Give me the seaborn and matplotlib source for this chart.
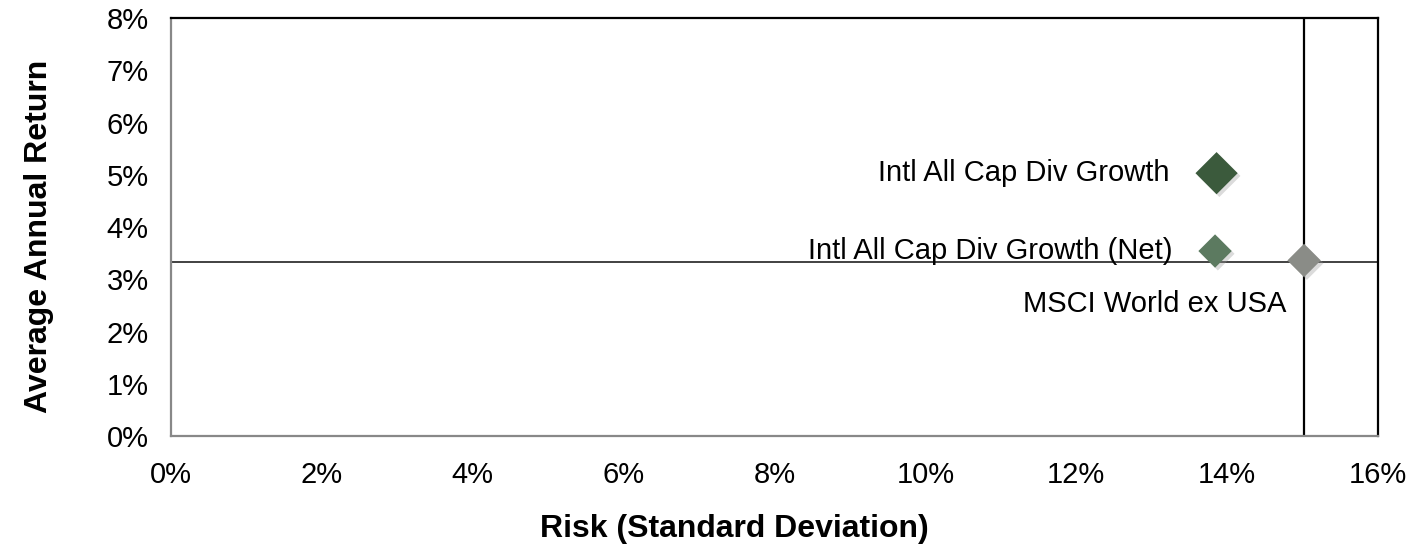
import matplotlib
matplotlib.use("Agg")
import matplotlib.pyplot as plt
import matplotlib.patheffects as pe
import seaborn as sns
import pandas as pd
from matplotlib.ticker import FuncFormatter, MultipleLocator

names = ["Intl All Cap Div Growth", "Intl All Cap Div Growth (Net)", "MSCI World ex USA"]
risk = [13.86, 13.84, 15.02]
ret = [5.03, 3.54, 3.36]
colors = ["#3b5a3c", "#5c7a60", "#8a8c87"]
bench_risk = 15.02
bench_ret = 3.33

sizes = [21.5, 17.0, 17.0]
label_dx = [-0.62, -0.57, -0.23]
label_dy = [0.0, 0.0, -0.84]

sns.set_theme(style="white")
plt.rcParams['font.family'] = ['Liberation Sans', 'DejaVu Sans']

df = pd.DataFrame({"name": names, "risk": risk, "ret": ret})

fig = plt.figure(figsize=(14.19, 5.46), dpi=100)
ax = fig.add_axes([171/1419, 1 - 436/546, (1378-171)/1419, (436-18)/546])

ax.axhline(bench_ret, color="#333333", lw=1.3, zorder=1)
ax.axvline(bench_risk, color="black", lw=1.6, zorder=1)

for i, n in enumerate(names):
    sub = df[df["name"] == n]
    sns.scatterplot(data=sub, x="risk", y="ret", ax=ax, marker="D",
                    s=sizes[i] ** 2, color=colors[i], edgecolor="none",
                    zorder=3, legend=False)
for coll in ax.collections:
    coll.set_path_effects([pe.SimplePatchShadow(offset=(2, -2), shadow_rgbFace="#999999", alpha=0.35),
                           pe.Normal()])

for i, n in enumerate(names):
    ax.text(risk[i] + label_dx[i], ret[i] + label_dy[i], n, ha="right", va="center",
            fontsize=21, color="black")

ax.set_xlim(0, 16)
ax.set_ylim(0, 8)
ax.xaxis.set_major_locator(MultipleLocator(2))
ax.yaxis.set_major_locator(MultipleLocator(1))
ax.xaxis.set_major_formatter(FuncFormatter(lambda v, p: f"{v:.0f}%"))
ax.yaxis.set_major_formatter(FuncFormatter(lambda v, p: f"{v:.0f}%"))
ax.tick_params(axis="both", labelsize=21, length=0, colors="black")
ax.tick_params(axis="y", pad=16)
ax.tick_params(axis="x", pad=18)

for s in ["top", "right"]:
    ax.spines[s].set_color("black")
    ax.spines[s].set_linewidth(1.6)
for s in ["left", "bottom"]:
    ax.spines[s].set_color("#888888")
    ax.spines[s].set_linewidth(1.6)

ax.set_xlabel("Risk (Standard Deviation)", fontsize=23, fontweight="bold", color="black", labelpad=18)
ax.set_ylabel("Average Annual Return", fontsize=23, fontweight="bold", color="black", labelpad=38)
ax.xaxis.label.set_x((734 - 171) / 1207)
ax.yaxis.label.set_y((436 - 236) / 418)
ax.grid(False)

fig.savefig("out.png", dpi=100)
